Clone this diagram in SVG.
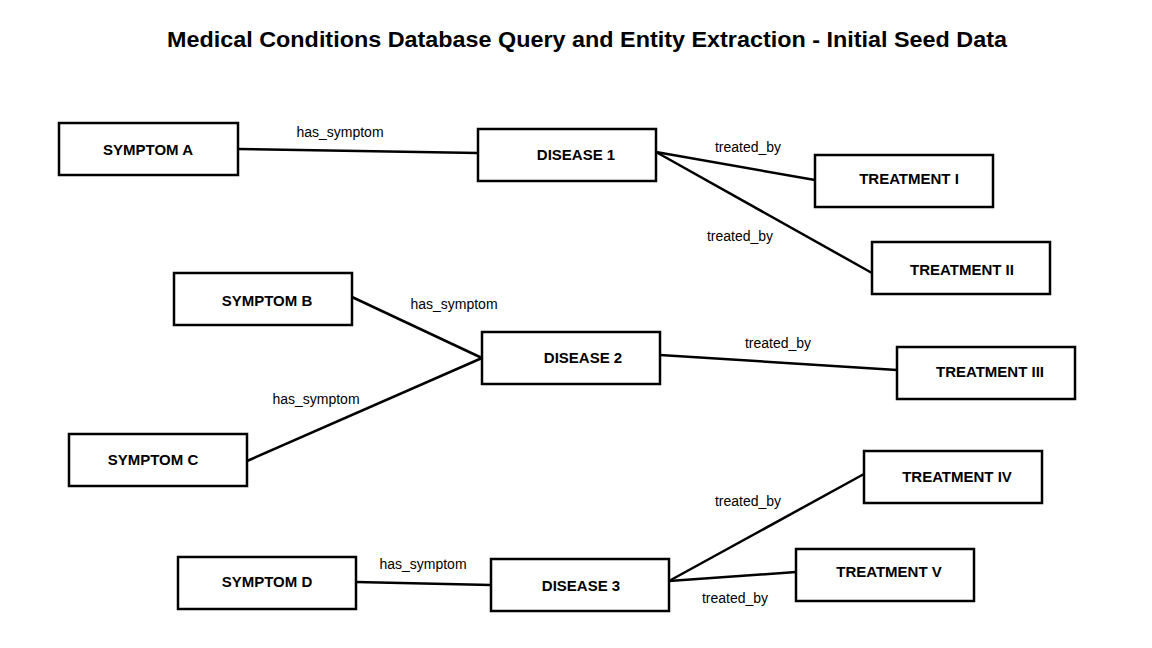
<svg xmlns="http://www.w3.org/2000/svg" width="1152" height="648" viewBox="0 0 1152 648">
<style>
.box{fill:#fff;stroke:#000;stroke-width:2.5}
.nt{font-family:"Liberation Sans",Arial,sans-serif;font-weight:bold;font-size:15px;text-anchor:middle;fill:#000}
.lb{font-family:"Liberation Sans",Arial,sans-serif;font-size:14px;text-anchor:middle;fill:#000}
.cn{stroke:#000;stroke-width:2.5;fill:none}
.title{font-family:"Liberation Sans",Arial,sans-serif;font-weight:bold;font-size:22px;text-anchor:middle;fill:#000}
</style>
<rect width="1152" height="648" fill="#fff"/>
<text class="title" x="587" y="47" textLength="840" lengthAdjust="spacingAndGlyphs">Medical Conditions Database Query and Entity Extraction - Initial Seed Data</text>
<g id="connectors">
<line class="cn" x1="238" y1="149" x2="478" y2="153"/>
<line class="cn" x1="656" y1="152" x2="815" y2="180"/>
<line class="cn" x1="656" y1="152" x2="872" y2="273"/>
<line class="cn" x1="352" y1="297" x2="482" y2="358"/>
<line class="cn" x1="247" y1="461" x2="482" y2="358"/>
<line class="cn" x1="660" y1="355" x2="897" y2="370"/>
<line class="cn" x1="356" y1="582" x2="491" y2="585"/>
<line class="cn" x1="669" y1="581" x2="864" y2="474"/>
<line class="cn" x1="669" y1="581" x2="796" y2="572"/>
<text class="lb" x="340" y="137">has_symptom</text>
<text class="lb" x="748" y="152">treated_by</text>
<text class="lb" x="740" y="241">treated_by</text>
<text class="lb" x="454" y="309">has_symptom</text>
<text class="lb" x="316" y="404">has_symptom</text>
<text class="lb" x="778" y="348">treated_by</text>
<text class="lb" x="748" y="506">treated_by</text>
<text class="lb" x="423" y="569">has_symptom</text>
<text class="lb" x="735" y="603">treated_by</text>
</g>
<g id="symptom-a"><rect class="box" x="59" y="123" width="179" height="52"/><text class="nt" x="148" y="155">SYMPTOM A</text></g>
<g id="disease-1"><rect class="box" x="478" y="129" width="178" height="52"/><text class="nt" x="576" y="160">DISEASE 1</text></g>
<g id="treatment-i"><rect class="box" x="815" y="155" width="178" height="52"/><text class="nt" x="909" y="184">TREATMENT I</text></g>
<g id="treatment-ii"><rect class="box" x="872" y="242" width="178" height="52"/><text class="nt" x="962" y="275">TREATMENT II</text></g>
<g id="symptom-b"><rect class="box" x="174" y="273" width="178" height="52"/><text class="nt" x="267" y="306">SYMPTOM B</text></g>
<g id="disease-2"><rect class="box" x="482" y="332" width="178" height="52"/><text class="nt" x="583" y="363">DISEASE 2</text></g>
<g id="treatment-iii"><rect class="box" x="897" y="347" width="178" height="52"/><text class="nt" x="990" y="377">TREATMENT III</text></g>
<g id="symptom-c"><rect class="box" x="69" y="434" width="178" height="52"/><text class="nt" x="153" y="465">SYMPTOM C</text></g>
<g id="treatment-iv"><rect class="box" x="864" y="451" width="178" height="52"/><text class="nt" x="957" y="482">TREATMENT IV</text></g>
<g id="treatment-v"><rect class="box" x="796" y="549" width="178" height="52"/><text class="nt" x="889" y="577">TREATMENT V</text></g>
<g id="symptom-d"><rect class="box" x="178" y="557" width="178" height="52"/><text class="nt" x="267" y="587">SYMPTOM D</text></g>
<g id="disease-3"><rect class="box" x="491" y="559" width="178" height="52"/><text class="nt" x="581" y="591">DISEASE 3</text></g>
</svg>
